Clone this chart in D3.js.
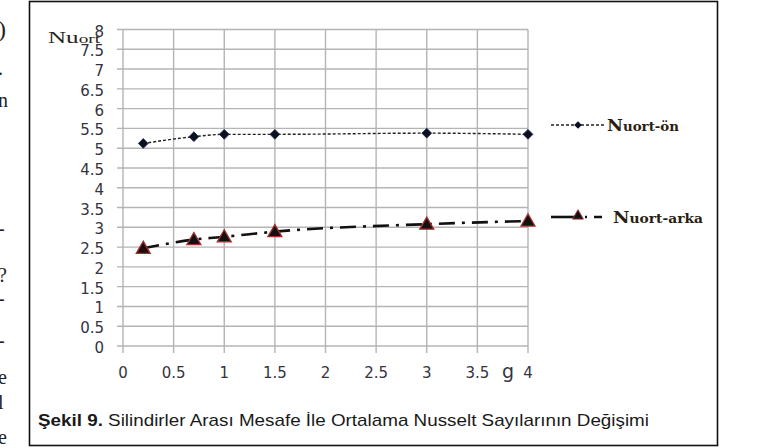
<!DOCTYPE html>
<html>
<head>
<meta charset="utf-8">
<script src="https://cdn.jsdelivr.net/npm/d3@7"></script>
<style>
  body { margin: 0; background: #fff; }
  svg { display: block; }
</style>
</head>
<body>
<div id="viz"></div>
<script>
// values
const gValues = [0.2, 0.7, 1.0, 1.5, 3.0, 4.0];
const nuOn = [5.12, 5.29, 5.35, 5.35, 5.38, 5.35];
const nuArka = [2.47, 2.69, 2.76, 2.89, 3.08, 3.16];
const yTicks = [0, 0.5, 1, 1.5, 2, 2.5, 3, 3.5, 4, 4.5, 5, 5.5, 6, 6.5, 7, 7.5, 8];
const xTicks = [0, 0.5, 1, 1.5, 2, 2.5, 3, 3.5, 4];
const seriesNames = ["Nuort-ön", "Nuort-arka"];
// bits of the page text cut off at the left edge
const sideGlyphs = [[")", 30], [".", 68], ["n", 100], ["-", 228], ["?", 275], ["-", 298], ["-", 340], ["e", 377], ["l", 402], ["e", 437]];

const W = 781, H = 448;
const svg = d3.select("#viz").append("svg")
    .attr("width", W)
    .attr("height", H);

sideGlyphs.forEach(function (d, i) {
    svg.append("text")
        .attr("x", -2)
        .attr("y", d[1] + 7)
        .style("font-family", "Liberation Serif, serif")
        .style("font-size", i == 0 ? "24px" : "20px")
        .style("fill", "#222")
        .text(d[0]);
});

// frame
svg.append("rect")
    .attr("x", 29.5).attr("y", 1.5)
    .attr("width", 688).attr("height", 444)
    .style("fill", "white")
    .style("stroke", "#111")
    .style("stroke-width", 1.6);

const x = d3.scaleLinear().domain([0, 4]).range([123, 528]);
const y = d3.scaleLinear().domain([0, 8]).range([346, 29.5]);

const grid = svg.append("g");
grid.selectAll("line.h").data(yTicks).enter().append("line")
    .attr("x1", 117).attr("x2", x(4))
    .attr("y1", d => y(d)).attr("y2", d => y(d))
    .style("stroke", "#b4b4b4").style("stroke-width", 1.4);
grid.selectAll("line.v").data(xTicks).enter().append("line")
    .attr("x1", d => x(d)).attr("x2", d => x(d))
    .attr("y1", y(8)).attr("y2", y(0) + 7)
    .style("stroke", "#b4b4b4").style("stroke-width", 1.4);

const tickFont = "'DejaVu Sans', sans-serif";
svg.append("g").selectAll("text").data(yTicks).enter().append("text")
    .attr("x", 104).attr("y", d => y(d) + 7)
    .attr("text-anchor", "end")
    .style("font-family", tickFont).style("font-size", "15px")
    .style("fill", "#33343f")
    .text(d => d);
svg.append("g").selectAll("text").data(xTicks).enter().append("text")
    .attr("x", d => x(d)).attr("y", 378)
    .attr("text-anchor", "middle")
    .style("font-family", tickFont).style("font-size", "15px")
    .style("fill", "#33343f")
    .text(d => d);

// axis names
const yName = svg.append("text")
    .attr("x", 48).attr("y", 43)
    .attr("textLength", 52).attr("lengthAdjust", "spacingAndGlyphs")
    .style("font-family", "Liberation Serif, serif")
    .style("fill", "#2a2218");
yName.append("tspan").style("font-size", "17px").text("Nu");
yName.append("tspan").style("font-size", "13px").text("ort");
svg.append("text")
    .attr("x", 502).attr("y", 378)
    .style("font-family", tickFont).style("font-size", "19px")
    .style("fill", "#33343f")
    .text("g");

// lines
const onData = gValues.map((g, i) => [g, nuOn[i]]);
const arkaData = gValues.map((g, i) => [g, nuArka[i]]);
const line = d3.line().x(d => x(d[0])).y(d => y(d[1])).curve(d3.curveMonotoneX);

svg.append("path").datum(onData)
    .attr("d", line)
    .style("fill", "none").style("stroke", "#222")
    .style("stroke-width", 1.4)
    .style("stroke-dasharray", "3,2");
svg.append("path").datum(arkaData)
    .attr("d", line)
    .style("fill", "none").style("stroke", "#111")
    .style("stroke-width", 2.6)
    .style("stroke-dasharray", "16,7,3,7");

const diamond = d3.symbol().type(d3.symbolSquare).size(48);
const tri = d3.symbol().type(d3.symbolTriangle).size(85);

svg.append("g").selectAll("path").data(onData).enter().append("path")
    .attr("transform", d => "translate(" + x(d[0]) + "," + y(d[1]) + ") rotate(45)")
    .attr("d", diamond)
    .style("fill", "#0b1020").style("stroke", "#1b2a4a").style("stroke-width", 0.8);
svg.append("g").selectAll("path").data(arkaData).enter().append("path")
    .attr("transform", d => "translate(" + x(d[0]) + "," + (y(d[1]) + 1) + ")")
    .attr("d", tri)
    .style("fill", "#111").style("stroke", "#a33030").style("stroke-width", 1.3);

// legend
const legFont = "'DejaVu Serif', 'Liberation Serif', serif";
svg.append("line")
    .attr("x1", 551).attr("x2", 605).attr("y1", 125).attr("y2", 125)
    .style("stroke", "#222").style("stroke-width", 1.4).style("stroke-dasharray", "3,2");
svg.append("path")
    .attr("transform", "translate(578,125) rotate(45)")
    .attr("d", d3.symbol().type(d3.symbolSquare).size(30))
    .style("fill", "#0b1020");
const leg1 = svg.append("text")
    .attr("x", 607).attr("y", 131)
    .attr("textLength", 72).attr("lengthAdjust", "spacingAndGlyphs")
    .style("font-family", legFont).style("font-weight", "bold")
    .style("fill", "#2a1e12");
leg1.append("tspan").style("font-size", "17px").text("N");
leg1.append("tspan").style("font-size", "13px").text(seriesNames[0].slice(1));

svg.append("line")
    .attr("x1", 551).attr("x2", 575).attr("y1", 217).attr("y2", 217)
    .style("stroke", "#111").style("stroke-width", 2.6);
svg.append("path")
    .attr("transform", "translate(578,216)")
    .attr("d", d3.symbol().type(d3.symbolTriangle).size(50))
    .style("fill", "#111").style("stroke", "#a33030").style("stroke-width", 1);
svg.append("line")
    .attr("x1", 585).attr("x2", 606).attr("y1", 217).attr("y2", 217)
    .style("stroke", "#111").style("stroke-width", 2.6).style("stroke-dasharray", "2,7,8,20");
const leg2 = svg.append("text")
    .attr("x", 613).attr("y", 223)
    .attr("textLength", 90).attr("lengthAdjust", "spacingAndGlyphs")
    .style("font-family", legFont).style("font-weight", "bold")
    .style("fill", "#2a1e12");
leg2.append("tspan").style("font-size", "17px").text("N");
leg2.append("tspan").style("font-size", "13px").text(seriesNames[1].slice(1));

// caption
const cap = svg.append("text")
    .attr("x", 38).attr("y", 426)
    .attr("textLength", 611).attr("lengthAdjust", "spacingAndGlyphs")
    .style("font-family", "'Liberation Sans Narrow', 'Liberation Sans', Arial, sans-serif")
    .style("font-size", "17px")
    .style("fill", "#1a1a1a");
cap.append("tspan").style("font-weight", "bold").text("Şekil 9.");
cap.append("tspan").text(" Silindirler Arası Mesafe İle Ortalama Nusselt Sayılarının Değişimi");
</script>
</body>
</html>
